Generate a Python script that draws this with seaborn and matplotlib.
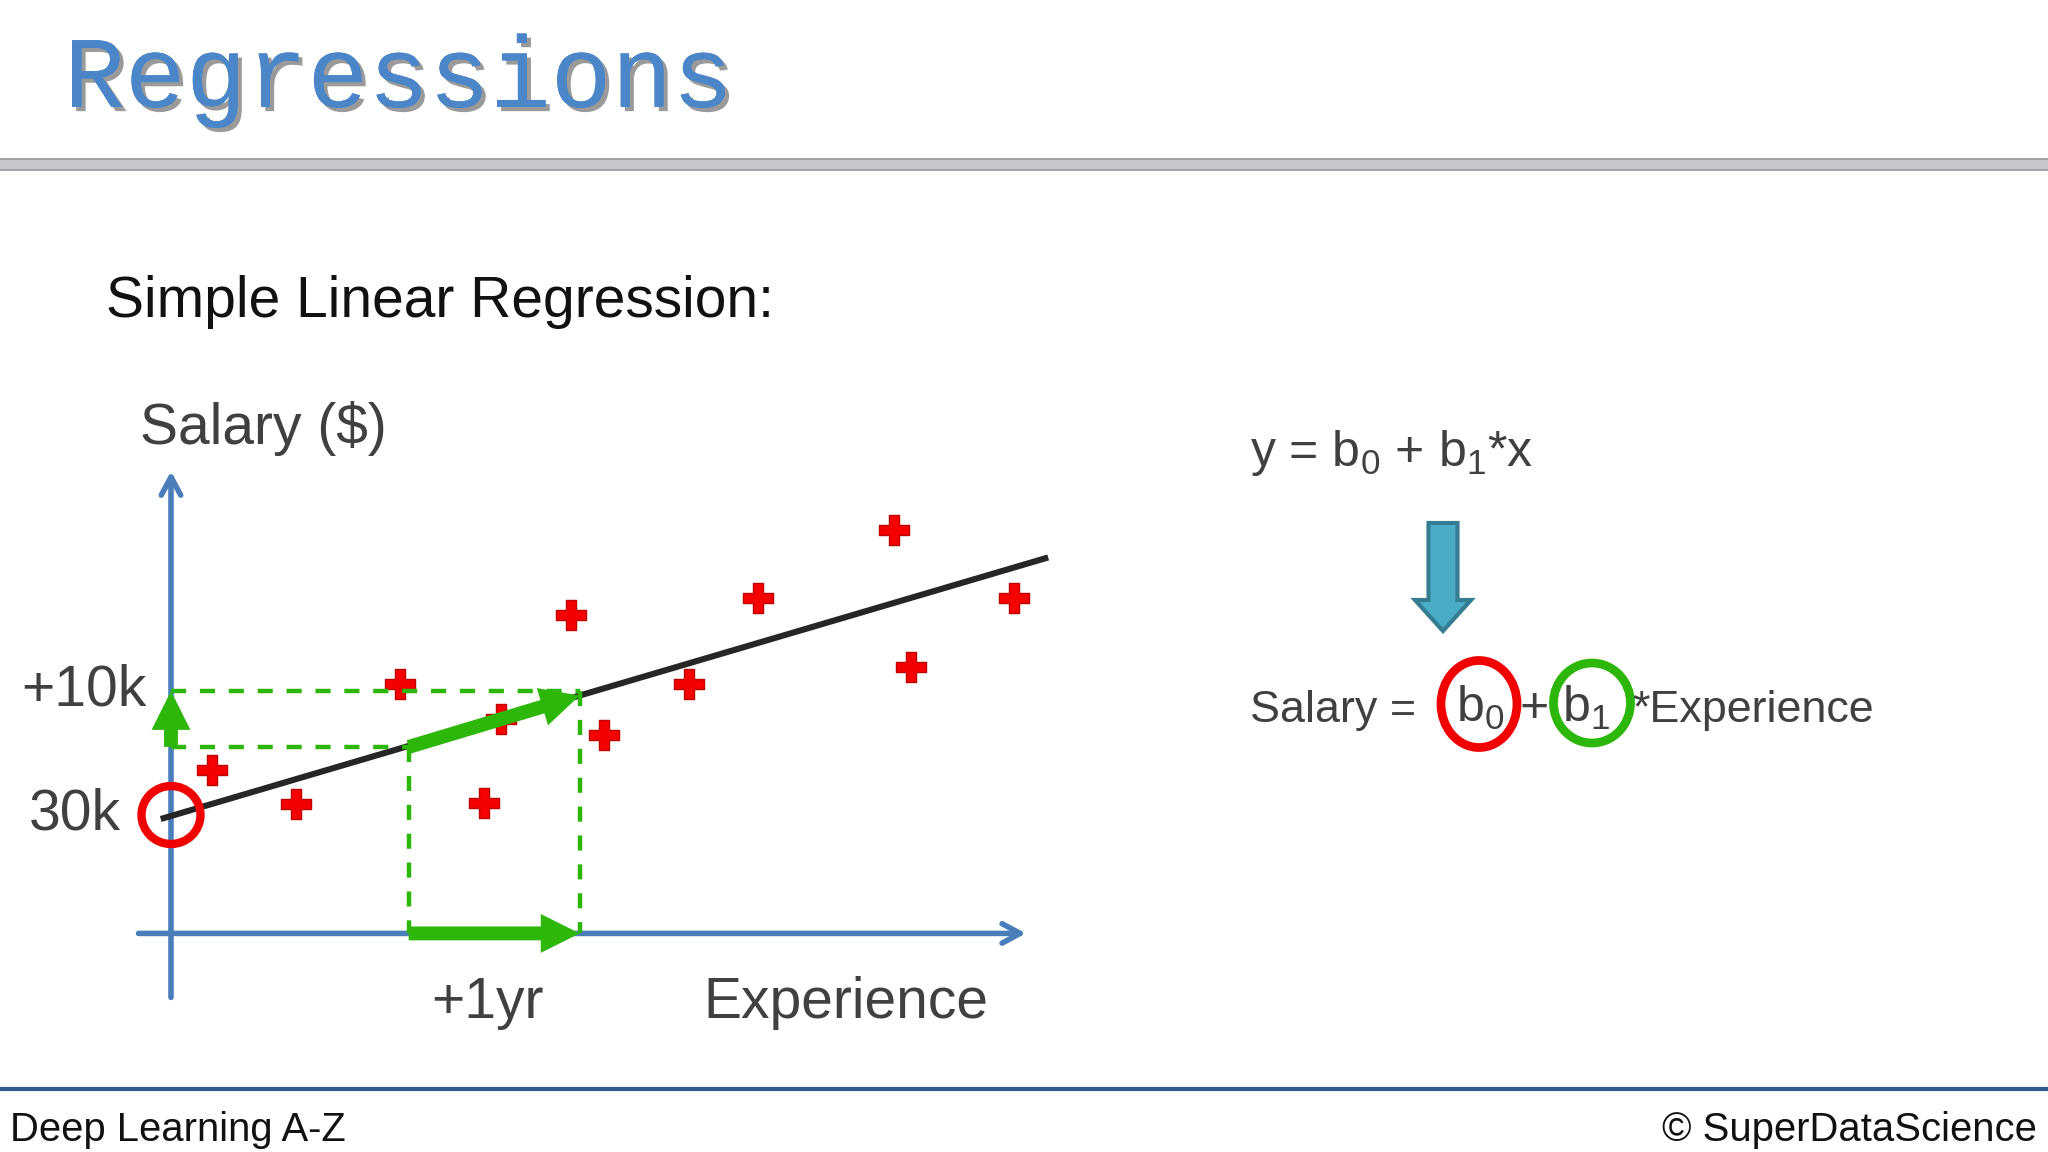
import matplotlib
matplotlib.use('Agg')
import matplotlib.pyplot as plt
import matplotlib.patheffects as pe
from matplotlib.patches import Ellipse, FancyArrow
import pandas as pd
import seaborn as sns

# scatter values: experience in years, salary in $k
experience = [0.24, 0.73, 1.34, 1.93, 1.83, 2.34, 2.53, 3.03, 3.43, 4.23, 4.33, 4.93]
salary = [39.2, 32.4, 56.1, 49.3, 32.6, 69.9, 46.1, 56.1, 73.2, 86.7, 59.5, 73.2]

# fitted line
line_x = [-0.06, 5.13]
line_y = [29.4, 81.3]

# +1yr / +10k step
step_x = [1.39, 2.39]
step_y = [43.7, 54.8]
arrow_tip_y = 53.9
axis_y = 6.7
axis_x = 0.0

BLUE = '#4a7ebb'
GREEN = '#2db70a'
RED = '#f50000'
GREY = '#404040'
W, H = 2048, 1152

sns.set_theme(style='white')
plt.rcParams['font.family'] = ['Liberation Sans', 'DejaVu Sans']
plt.rcParams['mathtext.fontset'] = 'custom'
plt.rcParams['mathtext.rm'] = 'Liberation Sans'
plt.rcParams['mathtext.default'] = 'rm'

fig = plt.figure(figsize=(W / 100, H / 100), dpi=100, facecolor='white')

# chart axes fill the whole slide, limits chosen so the axis origin lands in place
ax = fig.add_axes([0, 0, 1, 1])


def arrow(x0, y0, x1, y1, color, style, z, scale=10, **kw):
    ax.annotate('', xy=(x1, y1), xytext=(x0, y0), zorder=z,
                arrowprops=dict(arrowstyle=style, color=color, mutation_scale=scale,
                                shrinkA=0, shrinkB=0, **kw))


# axes
arrow(axis_x, -6.0, axis_x, 98.4, BLUE, '->,head_length=1.3,head_width=0.7', 1, lw=4)
arrow(-0.19, axis_y, 5.0, axis_y, BLUE, '->,head_length=1.3,head_width=0.7', 1, lw=4)

pts = pd.DataFrame({'experience': experience, 'salary': salary})
sns.scatterplot(data=pts, x='experience', y='salary', marker='P', s=460, color=RED,
                edgecolor='#c00000', linewidth=1, ax=ax, zorder=2, legend=False)

fit = pd.DataFrame({'x': line_x, 'y': line_y})
sns.lineplot(data=fit, x='x', y='y', color='#262626', linewidth=4.4, ax=ax, zorder=3,
             estimator=None, solid_capstyle='butt')

# dashed guides
dash = dict(color=GREEN, linewidth=3.2, linestyle=(0, (3.4, 3.1)), zorder=3)
ax.plot([axis_x, step_x[1]], [step_y[1], step_y[1]], **dash)
ax.plot([axis_x, step_x[0]], [step_y[0], step_y[0]], **dash)
ax.plot([step_x[0], step_x[0]], [step_y[0], axis_y], **dash)
ax.plot([step_x[1], step_x[1]], [step_y[1], axis_y], **dash)

# green arrows
thick = 'simple,head_length=2.8,head_width=2.8,tail_width=1.0'
arrow(step_x[0], axis_y, step_x[1], axis_y, GREEN, thick, 4, lw=0)
arrow(axis_x, step_y[0], axis_x, step_y[1], GREEN, thick, 4, lw=0)
arrow(step_x[0], step_y[0], step_x[1], arrow_tip_y, GREEN, thick, 4, lw=0)

ax.set_xlim(-1.0, 10.977)
ax.set_ylim(-36.67, 191.9)
ax.axis('off')

# page axes in pixels for the slide furniture and text
page = fig.add_axes([0, 0, 1, 1], zorder=5)
page.set_xlim(0, W)
page.set_ylim(H, 0)
page.axis('off')
page.patch.set_alpha(0)

page.axhspan(158, 170, color='#c8c7cb', lw=0)
page.axhline(159, color='#a3a3a6', lw=1.5)
page.axhline(169.5, color='#a3a3a6', lw=1.5)
page.axhline(1088.5, color='#2f5a8c', lw=3)

page.text(64, 107, 'Regressions', family='Liberation Mono', fontsize=73,
          color='#4a86c8', va='baseline',
          path_effects=[pe.withSimplePatchShadow(offset=(3, -3), shadow_rgbFace='#707070', alpha=0.7),
                        pe.Normal()])


def label(x, y, s, size=41, color=GREY, ha='left'):
    page.text(x, y, s, fontsize=size, color=color, ha=ha, va='baseline')


label(106, 317, 'Simple Linear Regression:', color='#111111')
label(140, 444, 'Salary ($)')
label(21, 705, '+10k')
label(121, 830, '30k', ha='right')
label(431, 1018, '+1yr')
label(703, 1018, 'Experience')

label(1250, 466, 'y = b$_0$ + b$_1$*x', size=36)
label(1250, 722, 'Salary =', size=32.3)
label(1456, 722, 'b$_0$', size=36)
label(1520, 722, '+', size=36)
label(1562, 722, 'b$_1$', size=36)
label(1632, 722, '*Experience', size=32.3)

label(10, 1141, 'Deep Learning A-Z', size=28.8, color='#111111')
label(2037, 1141, '\u00a9 SuperDataScience', size=28.8, color='#111111', ha='right')

# red and green rings
page.add_patch(Ellipse((171, 815), 59, 58, fill=False, ec='#f00000', lw=6))
page.add_patch(Ellipse((1479, 704), 76, 87, fill=False, ec='#f00000', lw=6.3))
page.add_patch(Ellipse((1592, 703), 77, 80, fill=False, ec='#2db70a', lw=6.3))

# transition arrow
page.add_patch(FancyArrow(1443, 523, 0, 108, width=29, head_width=56, head_length=31,
                          length_includes_head=True, fc='#4bacc6', ec='#357d91', lw=3))

fig.savefig('out.png', dpi=100)
